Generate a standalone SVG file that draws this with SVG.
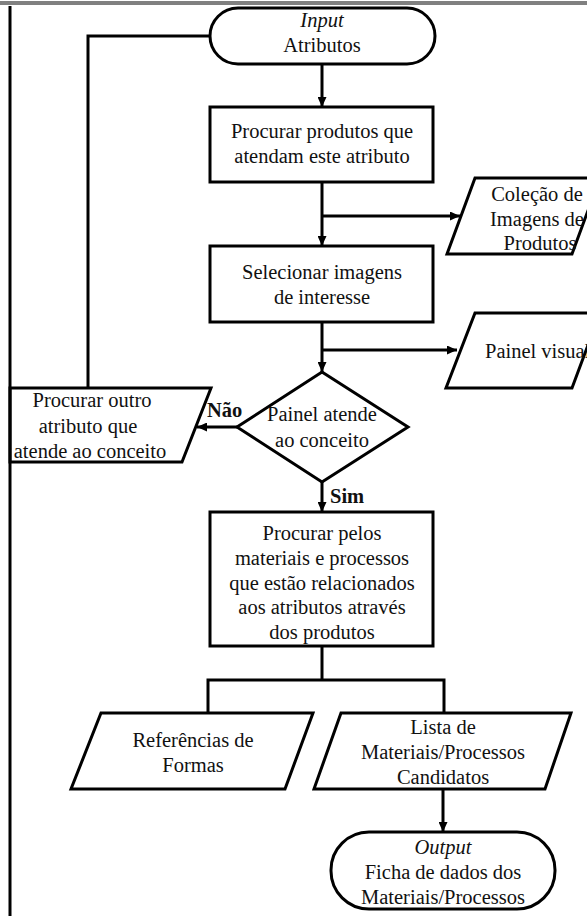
<svg xmlns="http://www.w3.org/2000/svg" width="587" height="916" viewBox="0 0 587 916">
<style>
.shape{fill:#fff;stroke:#000;stroke-width:3;stroke-linejoin:miter}
.conn{fill:none;stroke:#000;stroke-width:3}
.t{font-family:"Liberation Serif","Times New Roman",serif;font-size:20.5px;fill:#111;text-anchor:middle}
.i{font-style:italic}
.b{font-weight:bold;text-anchor:start}
</style>
<defs>
<marker id="arr" markerUnits="userSpaceOnUse" markerWidth="10" markerHeight="9" refX="10" refY="4.5" orient="auto">
<path d="M0,0 L10,4.5 L0,9 z" fill="#000"/>
</marker>
</defs>
<rect x="0" y="0" width="587" height="916" fill="#fff"/>
<rect x="0" y="1" width="587" height="4" fill="#808080"/>

<g id="connectors">
<polyline class="conn" points="210,36 88,36 88,388"/>
<line class="conn" x1="322" y1="64" x2="322" y2="107" marker-end="url(#arr)"/>
<line class="conn" x1="322" y1="182" x2="322" y2="246" marker-end="url(#arr)"/>
<line class="conn" x1="322" y1="216" x2="460" y2="216" marker-end="url(#arr)"/>
<line class="conn" x1="322" y1="322" x2="322" y2="372" marker-end="url(#arr)"/>
<line class="conn" x1="322" y1="350" x2="457" y2="350" marker-end="url(#arr)"/>
<line class="conn" x1="237" y1="427" x2="197" y2="427" marker-end="url(#arr)"/>
<line class="conn" x1="322" y1="482" x2="322" y2="512" marker-end="url(#arr)"/>
<line class="conn" x1="322" y1="646" x2="322" y2="680"/>
<polyline class="conn" points="208,713 208,680 444,680 444,713"/>
<line class="conn" x1="443" y1="789" x2="443" y2="832" marker-end="url(#arr)"/>
<text class="t b" x="207" y="417" font-size="19">Não</text>
<text class="t b" x="330" y="503" font-size="19">Sim</text>
</g>

<g id="input">
<rect class="shape" x="210" y="8" width="225" height="56" rx="28" ry="28"/>
<text class="t i" x="322" y="27">Input</text>
<text class="t" x="322" y="52">Atributos</text>
</g>

<g id="procurar-produtos">
<rect class="shape" x="210" y="107" width="223" height="75"/>
<text class="t" x="322" y="138">Procurar produtos que</text>
<text class="t" x="322" y="163">atendam este atributo</text>
</g>

<g id="colecao">
<polygon class="shape" points="475,178 600,178 572,254 447,254"/>
<text class="t" x="537" y="201">Coleção de</text>
<text class="t" x="537" y="226">Imagens de</text>
<text class="t" x="540" y="250">Produtos</text>
</g>

<g id="selecionar">
<rect class="shape" x="210" y="246" width="223" height="76"/>
<text class="t" x="322" y="279">Selecionar imagens</text>
<text class="t" x="322" y="304">de interesse</text>
</g>

<g id="painel-visual">
<polygon class="shape" points="475,313 600,313 572,388 446,388"/>
<text class="t" x="485" y="358" style="text-anchor:start">Painel visual</text>
</g>

<g id="decisao">
<polygon class="shape" points="322,372 408,427 322,482 237,427"/>
<text class="t" x="322" y="421">Painel atende</text>
<text class="t" x="322" y="447">ao conceito</text>
</g>

<g id="procurar-outro">
<polygon class="shape" points="10,388 211,388 182,462 10,462"/>
<text class="t" x="92" y="407">Procurar outro</text>
<text class="t" x="88" y="433">atributo que</text>
<text class="t" x="90" y="458">atende ao conceito</text>
</g>

<g id="procurar-materiais">
<rect class="shape" x="210" y="512" width="223" height="134"/>
<text class="t" x="322" y="540">Procurar pelos</text>
<text class="t" x="322" y="565">materiais e processos</text>
<text class="t" x="322" y="590">que estão relacionados</text>
<text class="t" x="322" y="614">aos atributos através</text>
<text class="t" x="322" y="639">dos produtos</text>
</g>

<g id="referencias">
<polygon class="shape" points="101,713 313,713 285,789 71,789"/>
<text class="t" x="193" y="747">Referências de</text>
<text class="t" x="193" y="772">Formas</text>
</g>

<g id="lista">
<polygon class="shape" points="341,713 571,713 545,789 314,789"/>
<text class="t" x="443" y="734">Lista de</text>
<text class="t" x="443" y="759">Materiais/Processos</text>
<text class="t" x="443" y="784">Candidatos</text>
</g>

<g id="output">
<rect class="shape" x="331" y="832" width="224" height="77" rx="38" ry="38"/>
<text class="t i" x="443" y="854">Output</text>
<text class="t" x="443" y="879">Ficha de dados dos</text>
<text class="t" x="443" y="904">Materiais/Processos</text>
</g>

<line x1="10" y1="6" x2="10" y2="916" stroke="#000" stroke-width="3"/>
</svg>
